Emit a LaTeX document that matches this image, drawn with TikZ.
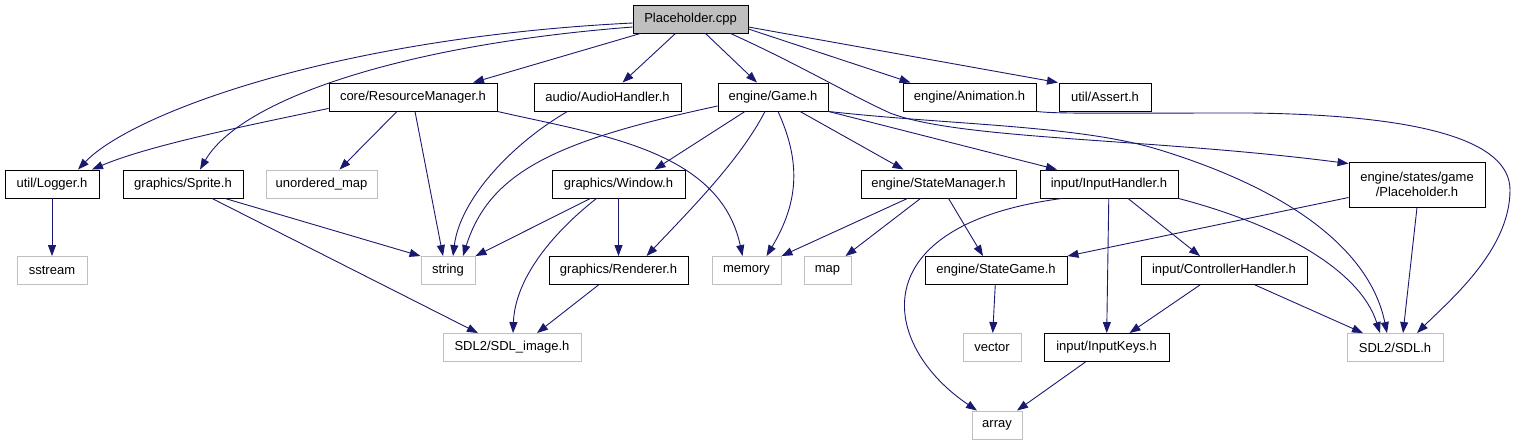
\documentclass[tikz,border=0pt]{standalone}
\usepackage{fontspec}
\setmainfont{Liberation Sans}
\usetikzlibrary{arrows.meta}
\definecolor{edgeblue}{HTML}{191970}
\definecolor{sysgray}{HTML}{BFBFBF}

\begin{document}
\begin{tikzpicture}[x=1pt,y=-1pt,
  hdr/.style={draw=black,line width=0.9pt,fill=white,inner sep=0pt,minimum height=28pt,font=\fontsize{13}{15}\selectfont},
  sys/.style={hdr,draw=sysgray},
  src/.style={hdr,fill=sysgray},
  dep/.style={draw=edgeblue,line width=0.9pt,-{Triangle[length=11pt,width=8pt]}}]
\useasboundingbox (0,0) rectangle (1518,445);

% the file itself
\node[src,minimum width=115pt] (cpp) at (690.5,19) {Placeholder.cpp};

% first level
\node[hdr,minimum width=168pt] (resmgr) at (413,97) {core/ResourceManager.h};
\node[hdr,minimum width=147pt] (audio) at (607.5,97) {audio/AudioHandler.h};
\node[hdr,minimum width=110pt] (game) at (773,97) {engine/Game.h};
\node[hdr,minimum width=133pt] (anim) at (969.5,97) {engine/Animation.h};
\node[hdr,minimum width=92pt] (assert) at (1105,97) {util/Assert.h};

% second level
\node[hdr,minimum width=94pt] (logger) at (52,184) {util/Logger.h};
\node[hdr,minimum width=120pt] (sprite) at (183,184) {graphics/Sprite.h};
\node[sys,minimum width=111pt] (umap) at (321.5,184) {unordered\_map};
\node[hdr,minimum width=133pt] (window) at (618.5,184) {graphics/Window.h};
\node[hdr,minimum width=155pt] (statemgr) at (938.5,184) {engine/StateManager.h};
\node[hdr,minimum width=138pt] (input) at (1109,184) {input/InputHandler.h};
\node[hdr,minimum width=136pt,minimum height=45pt,align=center] (stateph) at (1417,184.5) {engine/states/game\\/Placeholder.h};

% third level
\node[sys,minimum width=70pt] (sstream) at (52,270.5) {sstream};
\node[sys,minimum width=54pt] (string) at (448,270.5) {string};
\node[hdr,minimum width=139pt] (renderer) at (618.5,270.5) {graphics/Renderer.h};
\node[sys,minimum width=69pt] (memory) at (746.5,270.5) {memory};
\node[sys,minimum width=47pt] (map) at (827.5,270.5) {map};
\node[hdr,minimum width=142pt] (stategame) at (996,270.5) {engine/StateGame.h};
\node[hdr,minimum width=166pt] (ctrl) at (1224,270.5) {input/ControllerHandler.h};

% fourth and fifth level
\node[sys,minimum width=138pt] (sdlimg) at (512,347.5) {SDL2/SDL\_image.h};
\node[sys,minimum width=58pt] (vector) at (992,347.5) {vector};
\node[hdr,minimum width=125pt] (keys) at (1106.5,347.5) {input/InputKeys.h};
\node[sys,minimum width=96pt] (sdl) at (1395,347.5) {SDL2/SDL.h};
\node[sys,minimum width=50pt] (array) at (997,425) {array};

% includes of Placeholder.cpp
\draw[dep] ([yshift=-4pt]cpp.west) .. controls (330,38) and (130,115) .. ([xshift=26pt]logger.north);
\draw[dep] ([yshift=-8pt]cpp.west) .. controls (400,45) and (240,100) .. ([xshift=17pt]sprite.north);
\draw[dep] ([xshift=-50pt]cpp.south) -- ([xshift=60pt]resmgr.north);
\draw[dep] ([xshift=-15pt]cpp.south) -- ([xshift=15pt]audio.north);
\draw[dep] ([xshift=15pt]cpp.south) -- ([xshift=-16pt]game.north);
\draw[dep] ([yshift=-10pt]cpp.east) -- ([xshift=-59pt]anim.north);
\draw[dep] ([yshift=-8pt]cpp.east) -- ([xshift=-47pt]assert.north);
\draw[dep] ([xshift=40pt]cpp.south) .. controls (800,65) and (850,95) .. (890,113)
  .. controls (960,140) and (1150,138) .. ([yshift=-2pt]stateph.north west);

% core/ResourceManager.h
\draw[dep] ([yshift=3pt]resmgr.south west) .. controls (250,125) and (150,145) .. ([xshift=40pt]logger.north);
\draw[dep] ([xshift=-16pt]resmgr.south) -- ([xshift=18pt]umap.north);
\draw[dep] ([xshift=2pt]resmgr.south) -- ([xshift=-5pt]string.north);
\draw[dep] (resmgr.south east) .. controls (600,135) and (720,150) .. ([xshift=-4pt]memory.north);

% audio/AudioHandler.h
\draw[dep] ([xshift=-40pt]audio.south) .. controls (510,145) and (460,200) .. ([xshift=5pt]string.north);

% engine/Game.h
\draw[dep] ([yshift=-9pt]game.west) .. controls (560,140) and (490,170) .. ([xshift=15pt]string.north);
\draw[dep] ([xshift=-28pt]game.south) -- ([xshift=36pt]window.north);
\draw[dep] ([xshift=-8pt]game.south) .. controls (740,160) and (690,210) .. ([xshift=28pt]renderer.north);
\draw[dep] ([xshift=5pt]game.south) .. controls (800,160) and (800,200) .. ([xshift=20pt]memory.north);
\draw[dep] ([xshift=27pt]game.south) -- ([xshift=-35pt]statemgr.north);
\draw[dep] (game.south east) -- ([xshift=-52pt]input.north);
\draw[dep] (game.south east) .. controls (950,125) and (1080,125) .. (1160,150)
  .. controls (1290,190) and (1370,250) .. ([xshift=-8pt]sdl.north);

% engine/Animation.h
\draw[dep] (anim.south east) .. controls (1060,114) and (1100,113) .. (1250,113)
  .. controls (1420,115) and (1510,140) .. (1510,190)
  .. controls (1510,250) and (1450,300) .. ([xshift=22pt]sdl.north);

% graphics headers
\draw[dep] ([xshift=-28pt]window.south) -- (string.north east);
\draw[dep] ([xshift=-22pt]window.south) .. controls (550,235) and (515,280) .. ([xshift=1pt]sdlimg.north);
\draw[dep] (window) -- (renderer);
\draw[dep] ([xshift=-20pt]renderer.south) -- ([xshift=25pt]sdlimg.north);
\draw[dep] ([xshift=42pt]sprite.south) -- (string.north west);
\draw[dep] ([xshift=29pt]sprite.south) -- ([xshift=-34pt]sdlimg.north);
\draw[dep] (logger) -- (sstream);

% engine/StateManager.h
\draw[dep] ([xshift=-31pt]statemgr.south) -- (memory.north east);
\draw[dep] ([xshift=-18pt]statemgr.south) -- ([xshift=18pt]map.north);
\draw[dep] ([xshift=10pt]statemgr.south) -- ([xshift=-13pt]stategame.north);

% input headers
\draw[dep] ([xshift=-47pt]input.south) .. controls (860,225) and (880,345) .. ([xshift=-20pt]array.north);
\draw[dep] (input) -- (keys);
\draw[dep] ([xshift=19pt]input.south) -- ([xshift=-24pt]ctrl.north);
\draw[dep] (input.south east) .. controls (1280,225) and (1360,270) .. ([xshift=-15pt]sdl.north);
\draw[dep] ([xshift=-24pt]ctrl.south) -- ([xshift=23pt]keys.north);
\draw[dep] ([xshift=31pt]ctrl.south) -- ([xshift=-32pt]sdl.north);
\draw[dep] ([xshift=-21pt]keys.south) -- ([xshift=20pt]array.north);

% engine/states/game/Placeholder.h
\draw[dep] ([yshift=-13pt]stateph.west) -- (stategame.north east);
\draw[dep] (stateph.south) -- ([xshift=8pt]sdl.north);
\draw[dep] (stategame) -- (vector);
\end{tikzpicture}
\end{document}
